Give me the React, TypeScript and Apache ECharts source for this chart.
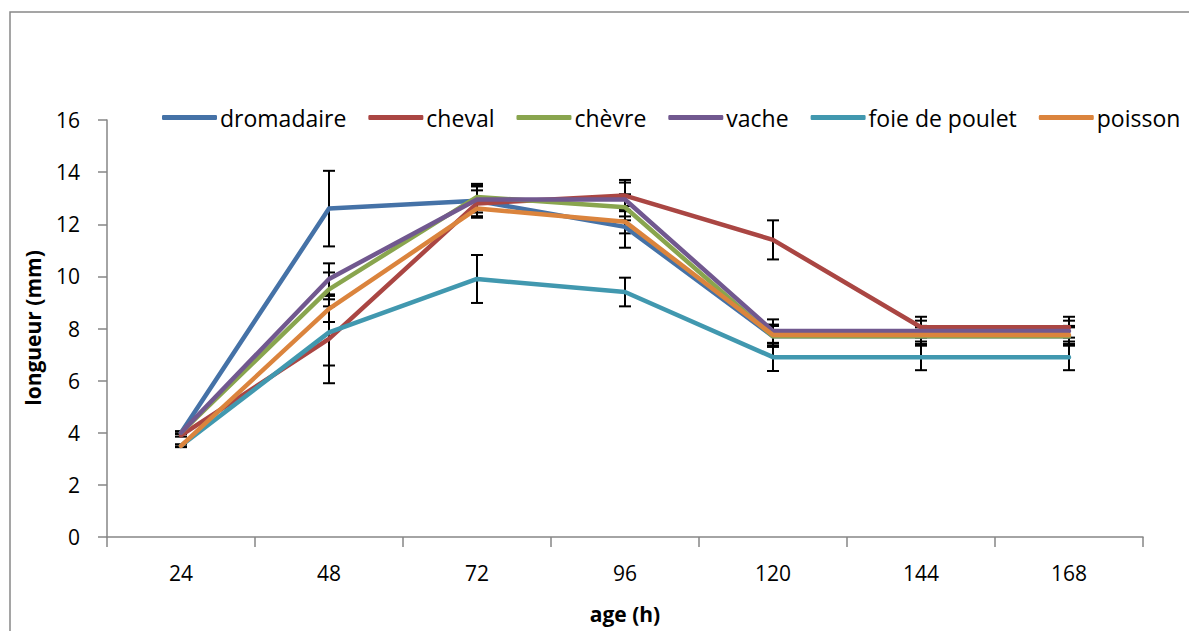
import React, { useEffect, useRef } from "react";
import * as echarts from "echarts";

const ages = ["24", "48", "72", "96", "120", "144", "168"];
const names = ["dromadaire", "cheval", "chèvre", "vache", "foie de poulet", "poisson"];
const colors = ["#4572A7", "#AA4643", "#89A54E", "#71588F", "#4198AF", "#DB843D"];

const dromadaire = [4.0, 12.6, 12.9, 11.9, 7.7, 7.7, 7.7];
const cheval = [3.9, 7.6, 12.8, 13.1, 11.4, 8.05, 8.05];
const chevre = [4.0, 9.5, 13.05, 12.65, 7.7, 7.7, 7.7];
const vache = [4.0, 9.9, 12.95, 12.95, 7.9, 7.9, 7.9];
const foie = [3.5, 7.85, 9.9, 9.4, 6.9, 6.9, 6.9];
const poisson = [3.5, 8.75, 12.6, 12.1, 7.75, 7.75, 7.75];

const errDromadaire = [0.05, 1.45, 0.6, 0.8, 0.4, 0.35, 0.35];
const errCheval = [0.05, 1.7, 0.5, 0.6, 0.75, 0.4, 0.4];
const errChevre = [0.05, 0.65, 0.5, 0.5, 0.4, 0.35, 0.35];
const errVache = [0.05, 0.6, 0.5, 0.65, 0.45, 0.4, 0.4];
const errFoie = [0.05, 1.27, 0.92, 0.55, 0.53, 0.5, 0.5];
const errPoisson = [0.05, 0.5, 0.35, 0.45, 0.4, 0.35, 0.35];

const yTicks = [0, 2, 4, 6, 8, 10, 12, 14, 16];

const values = [dromadaire, cheval, chevre, vache, foie, poisson];
const errors = [errDromadaire, errCheval, errChevre, errVache, errFoie, errPoisson];

const FONT = "Open Sans";

export default function App() {
  const ref = useRef<HTMLDivElement>(null);
  useEffect(() => {
    document.body.style.margin = "0";
    const chart = echarts.init(ref.current!, null, { renderer: "svg" });
    const errorSeries = values.map((vals, s) => ({
      type: "custom",
      name: names[s] + "_err",
      z: 1,
      silent: true,
      data: vals.map((v, i) => [i, v - errors[s][i], v + errors[s][i]]),
      renderItem: (params: any, api: any) => {
        const lo = api.coord([api.value(0), api.value(1)]);
        const hi = api.coord([api.value(0), api.value(2)]);
        const st = { stroke: "#000", lineWidth: 2 };
        const cw = 6;
        return {
          type: "group",
          children: [
            { type: "line", shape: { x1: lo[0], y1: lo[1], x2: hi[0], y2: hi[1] }, style: st },
            { type: "line", shape: { x1: hi[0] - cw, y1: hi[1], x2: hi[0] + cw, y2: hi[1] }, style: st },
            { type: "line", shape: { x1: lo[0] - cw, y1: lo[1], x2: lo[0] + cw, y2: lo[1] }, style: st },
          ],
        };
      },
    }));
    const lineSeries = values.map((vals, s) => ({
      type: "line",
      name: names[s],
      data: vals,
      symbol: "none",
      z: 2 + s,
      lineStyle: { width: 4.5, color: colors[s], cap: "round", join: "round" },
      itemStyle: { color: colors[s] },
    }));
    chart.setOption({
      animation: false,
      backgroundColor: "#fff",
      textStyle: { fontFamily: FONT },
      grid: { left: 107, right: 46, top: 120, bottom: 94 },
      legend: {
        data: names,
        left: 157,
        top: 101,
        icon: "roundRect",
        itemWidth: 55,
        itemHeight: 5,
        itemGap: 22,
        textStyle: { fontFamily: FONT, fontSize: 23, color: "#000", padding: [0, 0, 0, -2] },
      },
      xAxis: {
        type: "category",
        data: ages,
        boundaryGap: true,
        axisLine: { lineStyle: { color: "#868686", width: 1.5 } },
        axisTick: { show: true, length: 10, alignWithLabel: false, lineStyle: { color: "#868686", width: 1.5 } },
        axisLabel: { fontFamily: FONT, fontSize: 21, color: "#000", margin: 25 },
      },
      yAxis: {
        type: "value",
        min: yTicks[0],
        max: yTicks[yTicks.length - 1],
        interval: 2,
        splitLine: { show: false },
        axisLine: { show: true, lineStyle: { color: "#868686", width: 1.5 } },
        axisTick: { show: true, length: 9, lineStyle: { color: "#868686", width: 1.5 } },
        axisLabel: { fontFamily: FONT, fontSize: 21, color: "#000", margin: 27 },
      },
      graphic: [
        {
          type: "rect",
          shape: { x: 10, y: 12, width: 1300, height: 800 },
          style: { fill: "none", stroke: "#888", lineWidth: 1.5 },
          z: -1,
          silent: true,
        },
        {
          type: "text",
          x: 33,
          y: 328,
          rotation: Math.PI / 2,
          style: {
            text: "longueur (mm)",
            fontFamily: FONT,
            fontWeight: "bold",
            fontSize: 21,
            fill: "#000",
            align: "center",
            verticalAlign: "middle",
          },
        },
        {
          type: "text",
          x: 625,
          y: 614,
          style: {
            text: "age (h)",
            fontFamily: FONT,
            fontWeight: "bold",
            fontSize: 21,
            fill: "#000",
            align: "center",
            verticalAlign: "middle",
          },
        },
      ],
      series: [...errorSeries, ...lineSeries],
    });
    return () => chart.dispose();
  }, []);
  return <div ref={ref} style={{ width: 1189, height: 631, position: "fixed", left: 0, top: 0 }} />;
}
